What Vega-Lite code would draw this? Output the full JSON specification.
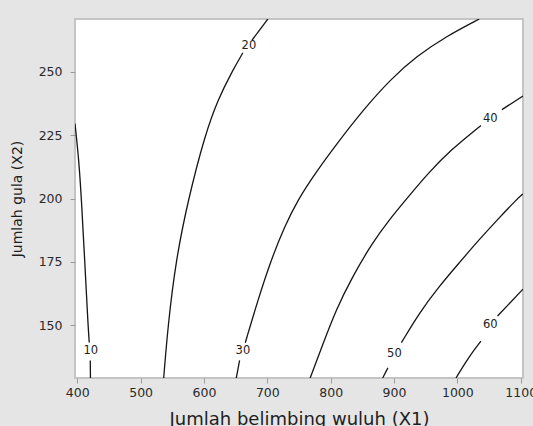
{
  "$schema": "https://vega.github.io/schema/vega-lite/v6.json",
  "width": 448,
  "height": 359,
  "autosize": {"type": "none"},
  "padding": {"left": 75, "top": 19, "right": 10, "bottom": 48},
  "background": "#e5e5e5",
  "config": {
    "view": {"fill": "white", "stroke": "#c4c4c4", "strokeWidth": 2},
    "axis": {
      "domain": false,
      "grid": false,
      "tickColor": "#9a9a9a",
      "tickSize": 5,
      "labelFont": "DejaVu Sans",
      "labelFontSize": 12.5,
      "labelColor": "#2a2a2a",
      "titleFont": "DejaVu Sans",
      "titleFontWeight": "normal",
      "titleColor": "#1e1e1e"
    }
  },
  "datasets": {
    "lines": [
      {"level": 10, "seg": "10a", "i": 1, "x": 396.4, "y": 229.5},
      {"level": 10, "seg": "10a", "i": 2, "x": 402.4, "y": 215.4},
      {"level": 10, "seg": "10a", "i": 3, "x": 406.6, "y": 199.6},
      {"level": 10, "seg": "10a", "i": 4, "x": 411.8, "y": 175.2},
      {"level": 10, "seg": "10a", "i": 5, "x": 417.0, "y": 150.0},
      {"level": 10, "seg": "10a", "i": 6, "x": 418.9, "y": 143.3},
      {"level": 10, "seg": "10b", "i": 7, "x": 420.5, "y": 136.2},
      {"level": 10, "seg": "10b", "i": 8, "x": 420.8, "y": 129.3},
      {"level": 20, "seg": "20a", "i": 1, "x": 536.4, "y": 129.3},
      {"level": 20, "seg": "20a", "i": 2, "x": 543.2, "y": 150.0},
      {"level": 20, "seg": "20a", "i": 3, "x": 555.3, "y": 175.2},
      {"level": 20, "seg": "20a", "i": 4, "x": 575.0, "y": 199.6},
      {"level": 20, "seg": "20a", "i": 5, "x": 601.8, "y": 225.2},
      {"level": 20, "seg": "20a", "i": 6, "x": 622.0, "y": 239.0},
      {"level": 20, "seg": "20a", "i": 7, "x": 645.2, "y": 250.4},
      {"level": 20, "seg": "20a", "i": 8, "x": 661.4, "y": 257.4},
      {"level": 20, "seg": "20b", "i": 9, "x": 675.9, "y": 262.4},
      {"level": 20, "seg": "20b", "i": 10, "x": 700.8, "y": 270.7},
      {"level": 30, "seg": "30a", "i": 1, "x": 651.0, "y": 129.3},
      {"level": 30, "seg": "30a", "i": 2, "x": 656.2, "y": 136.2},
      {"level": 30, "seg": "30b", "i": 3, "x": 665.2, "y": 143.2},
      {"level": 30, "seg": "30b", "i": 4, "x": 685.4, "y": 160.2},
      {"level": 30, "seg": "30b", "i": 5, "x": 705.1, "y": 175.2},
      {"level": 30, "seg": "30b", "i": 6, "x": 727.2, "y": 189.0},
      {"level": 30, "seg": "30b", "i": 7, "x": 748.4, "y": 199.6},
      {"level": 30, "seg": "30b", "i": 8, "x": 776.0, "y": 210.1},
      {"level": 30, "seg": "30b", "i": 9, "x": 810.7, "y": 221.9},
      {"level": 30, "seg": "30b", "i": 10, "x": 851.7, "y": 235.0},
      {"level": 30, "seg": "30b", "i": 11, "x": 894.3, "y": 246.9},
      {"level": 30, "seg": "30b", "i": 12, "x": 935.3, "y": 256.0},
      {"level": 30, "seg": "30b", "i": 13, "x": 982.6, "y": 263.9},
      {"level": 30, "seg": "30b", "i": 14, "x": 1034.6, "y": 270.7},
      {"level": 40, "seg": "40a", "i": 1, "x": 767.6, "y": 129.3},
      {"level": 40, "seg": "40a", "i": 2, "x": 786.6, "y": 141.9},
      {"level": 40, "seg": "40a", "i": 3, "x": 808.6, "y": 156.3},
      {"level": 40, "seg": "40a", "i": 4, "x": 834.8, "y": 169.4},
      {"level": 40, "seg": "40a", "i": 5, "x": 865.9, "y": 182.6},
      {"level": 40, "seg": "40a", "i": 6, "x": 892.7, "y": 191.7},
      {"level": 40, "seg": "40a", "i": 7, "x": 919.0, "y": 199.6},
      {"level": 40, "seg": "40a", "i": 8, "x": 954.2, "y": 210.1},
      {"level": 40, "seg": "40a", "i": 9, "x": 990.4, "y": 219.3},
      {"level": 40, "seg": "40a", "i": 10, "x": 1029.4, "y": 227.2},
      {"level": 40, "seg": "40a", "i": 11, "x": 1037.2, "y": 228.7},
      {"level": 40, "seg": "40b", "i": 12, "x": 1070.3, "y": 235.0},
      {"level": 40, "seg": "40b", "i": 13, "x": 1103.6, "y": 240.4},
      {"level": 50, "seg": "50a", "i": 1, "x": 882.1, "y": 129.3},
      {"level": 50, "seg": "50a", "i": 2, "x": 890.3, "y": 133.3},
      {"level": 50, "seg": "50b", "i": 3, "x": 911.6, "y": 143.2},
      {"level": 50, "seg": "50b", "i": 4, "x": 940.0, "y": 155.0},
      {"level": 50, "seg": "50b", "i": 5, "x": 971.5, "y": 165.5},
      {"level": 50, "seg": "50b", "i": 6, "x": 1003.1, "y": 174.7},
      {"level": 50, "seg": "50b", "i": 7, "x": 1034.6, "y": 183.9},
      {"level": 50, "seg": "50b", "i": 8, "x": 1066.1, "y": 192.4},
      {"level": 50, "seg": "50b", "i": 9, "x": 1093.4, "y": 199.6},
      {"level": 50, "seg": "50b", "i": 10, "x": 1103.6, "y": 201.8},
      {"level": 60, "seg": "60a", "i": 1, "x": 997.8, "y": 129.3},
      {"level": 60, "seg": "60a", "i": 2, "x": 1018.8, "y": 137.9},
      {"level": 60, "seg": "60a", "i": 3, "x": 1037.2, "y": 143.8},
      {"level": 60, "seg": "60b", "i": 4, "x": 1063.4, "y": 153.7},
      {"level": 60, "seg": "60b", "i": 5, "x": 1103.6, "y": 164.3}
    ],
    "labels": [
      {"level": 10, "x": 421.3, "y": 139.9},
      {"level": 20, "x": 670.9, "y": 260.2},
      {"level": 30, "x": 661.4, "y": 139.9},
      {"level": 40, "x": 1051.9, "y": 231.5},
      {"level": 50, "x": 900.6, "y": 138.9},
      {"level": 60, "x": 1051.9, "y": 150.0}
    ]
  },
  "layer": [
    {
      "data": {"name": "lines"},
      "mark": {"type": "line", "color": "#151515", "strokeWidth": 1.3, "interpolate": "basis", "clip": true},
      "encoding": {
        "x": {
          "field": "x", "type": "quantitative",
          "scale": {"domain": [396.4, 1103.6], "nice": false, "zero": false},
          "axis": {"values": [400, 500, 600, 700, 800, 900, 1000, 1100], "format": "d", "title": "Jumlah belimbing wuluh (X1)", "titleFontSize": 18, "labelPadding": 3, "titlePadding": 12}
        },
        "y": {
          "field": "y", "type": "quantitative",
          "scale": {"domain": [129.3, 270.7], "nice": false, "zero": false},
          "axis": {"values": [150, 175, 200, 225, 250], "title": "Jumlah gula (X2)", "titleFontSize": 14, "labelPadding": 8, "titlePadding": 14}
        },
        "detail": {"field": "seg"},
        "order": {"field": "i", "type": "quantitative"}
      }
    },
    {
      "data": {"name": "labels"},
      "mark": {"type": "text", "font": "DejaVu Sans", "fontSize": 11.5, "color": "#222222", "align": "center", "baseline": "middle"},
      "encoding": {
        "x": {"field": "x", "type": "quantitative"},
        "y": {"field": "y", "type": "quantitative"},
        "text": {"field": "level", "type": "nominal"}
      }
    }
  ]
}
